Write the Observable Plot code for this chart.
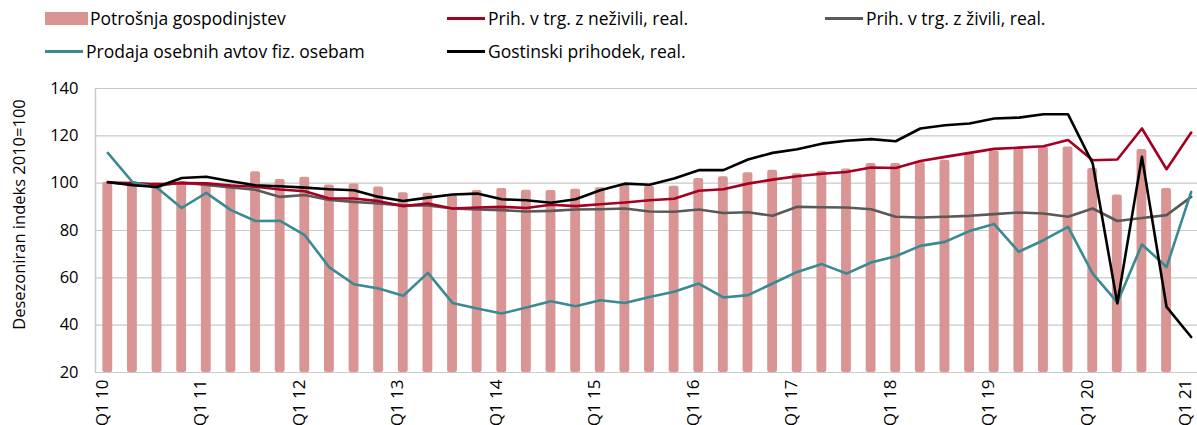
<!DOCTYPE html>
<html>
<head>
<meta charset="utf-8">
<script src="https://cdn.jsdelivr.net/npm/d3@7"></script>
<script src="https://cdn.jsdelivr.net/npm/@observablehq/plot@0.6"></script>
<style>
  body { margin: 0; background: #fff; overflow: hidden; font-family: "Open Sans", sans-serif; }
  #wrap { position: relative; width: 1197px; height: 425px; overflow: hidden; }
  #legend { position: absolute; left: 0; top: 0; width: 1197px; height: 70px; }
  .item { position: absolute; display: flex; align-items: center; font-size: 17.5px; color: #000; white-space: nowrap; height: 22px; }
  .sw-bar { width: 43px; height: 13px; margin-right: 2px; }
  .sw-line { width: 38px; height: 3px; margin-right: 3px; }
  #chart { position: absolute; left: 0; top: 70px; width: 1203px; }
  #chart svg { max-width: none !important; }
</style>
</head>
<body>
<div id="wrap"><div id="legend"></div><div id="chart"></div></div>
<script>
const categories = [
  "Q1 10","Q2 10","Q3 10","Q4 10","Q1 11","Q2 11","Q3 11","Q4 11",
  "Q1 12","Q2 12","Q3 12","Q4 12","Q1 13","Q2 13","Q3 13","Q4 13",
  "Q1 14","Q2 14","Q3 14","Q4 14","Q1 15","Q2 15","Q3 15","Q4 15",
  "Q1 16","Q2 16","Q3 16","Q4 16","Q1 17","Q2 17","Q3 17","Q4 17",
  "Q1 18","Q2 18","Q3 18","Q4 18","Q1 19","Q2 19","Q3 19","Q4 19",
  "Q1 20","Q2 20","Q3 20","Q4 20","Q1 21"
];
const tickLabels = ["Q1 10","Q1 11","Q1 12","Q1 13","Q1 14","Q1 15","Q1 16","Q1 17","Q1 18","Q1 19","Q1 20","Q1 21"];
const yTicks = [20, 40, 60, 80, 100, 120, 140];

// Potrošnja gospodinjstev (bars)
const consumption = [100.3,100.5,100.3,100.5,99.6,99.5,104.8,101.5,102.5,99.2,99.6,98.4,96.0,95.7,95.0,96.9,97.7,97.0,96.9,97.4,98.1,99.0,98.7,98.7,102.0,102.7,104.4,105.5,104.0,105.0,106.0,108.3,108.3,108.7,109.7,112.5,113.6,114.6,115.3,115.3,106.2,95.0,114.2,97.7,null];
// Prih. v trg. z neživili, real.
const nonFood = [100.3,100.0,99.5,100.0,99.9,99.0,98.5,97.3,96.6,93.5,93.5,92.4,90.3,91.4,89.3,89.7,90.0,89.5,90.9,90.3,91.1,91.8,92.8,93.4,96.8,97.4,99.8,101.5,102.9,104.0,104.7,106.6,106.4,109.4,111.1,112.8,114.5,115.0,115.6,118.2,109.7,110.0,123.1,105.9,121.4];
// Prih. v trg. z živili, real.
const food = [100.3,99.5,98.8,100.3,99.2,98.2,97.2,94.2,95.0,92.9,92.1,91.4,90.6,90.6,89.3,88.9,88.6,88.0,88.3,88.9,89.0,89.3,88.0,87.9,88.9,87.4,87.7,86.2,90.0,89.8,89.7,89.0,85.8,85.5,85.8,86.2,86.9,87.6,87.2,85.8,89.3,84.0,85.3,86.5,94.2];
// Prodaja osebnih avtov fiz. osebam
const cars = [112.8,100.5,98.1,89.5,95.9,88.6,84.0,84.1,78.0,64.4,57.3,55.5,52.4,62.1,49.4,47.0,44.9,47.5,50.1,48.0,50.5,49.4,51.9,54.1,57.6,51.7,52.7,57.6,62.5,65.8,61.8,66.5,69.1,73.5,75.2,79.8,82.7,71.0,75.9,81.5,61.8,49.6,74.1,64.6,96.3];
// Gostinski prihodek, real.
const gastro = [100.5,99.1,98.4,102.2,102.7,100.8,99.1,98.7,98.1,97.4,97.0,94.2,92.5,93.9,95.2,95.6,93.2,92.8,91.7,93.2,97.0,99.8,99.3,102.0,105.5,105.5,110.0,112.8,114.3,116.7,117.9,118.6,117.7,123.1,124.5,125.2,127.3,127.7,129.1,129.1,108.3,49.2,111.1,47.7,35.0];

const seriesNames = ["Potrošnja gospodinjstev","Prih. v trg. z neživili, real.","Prih. v trg. z živili, real.","Prodaja osebnih avtov fiz. osebam","Gostinski prihodek, real."];
const yTitle = "Desezoniran indeks 2010=100";
const colors = { bar: "#d99594", nonFood: "#a50021", food: "#595959", cars: "#3a8a92", gastro: "#000000" };
const gridColor = "#c9c9c9";

// legend
const legendItems = [
  { name: seriesNames[0], kind: "bar", color: colors.bar, left: 45, top: 7 },
  { name: seriesNames[1], kind: "line", color: colors.nonFood, left: 447, top: 7 },
  { name: seriesNames[2], kind: "line", color: colors.food, left: 825, top: 7 },
  { name: seriesNames[3], kind: "line", color: colors.cars, left: 45, top: 40 },
  { name: seriesNames[4], kind: "line", color: colors.gastro, left: 447, top: 40 }
];
const legend = d3.select("#legend");
for (const it of legendItems) {
  const d = legend.append("div").attr("class", "item").style("left", it.left + "px").style("top", it.top + "px");
  d.append("div").attr("class", it.kind === "bar" ? "sw-bar" : "sw-line").style("background", it.color);
  d.append("span").text(it.name);
}

const rows = categories.map((c, i) => ({
  q: c, consumption: consumption[i], nonFood: nonFood[i], food: food[i], cars: cars[i], gastro: gastro[i]
}));
const yMin = yTicks[0];

const leftAxisLine = (index, scales, values, dimensions) => {
  const g = d3.create("svg:line")
    .attr("x1", dimensions.marginLeft + 0.5).attr("x2", dimensions.marginLeft + 0.5)
    .attr("y1", dimensions.marginTop).attr("y2", dimensions.height - dimensions.marginBottom)
    .attr("stroke", gridColor).attr("stroke-width", 1.5);
  return g.node();
};

const chart = Plot.plot({
  width: 1203,
  height: 355,
  marginLeft: 95,
  marginRight: 0,
  marginTop: 18,
  marginBottom: 53,
  style: { fontFamily: "Open Sans, sans-serif", fontSize: "16px", color: "#000", background: "#fff" },
  x: { domain: categories, paddingInner: 0.6, paddingOuter: 0.3, round: false, axis: null },
  y: { domain: [yTicks[0], yTicks[yTicks.length - 1]], axis: null },
  marks: [
    Plot.ruleY(yTicks, { stroke: gridColor, strokeWidth: 1.2 }),
    Plot.barY(rows.filter(d => d.consumption != null), { x: "q", y1: () => yMin, y2: "consumption", fill: colors.bar, rx: 2 }),
    leftAxisLine,
    Plot.lineY(rows, { x: "q", y: "food", stroke: colors.food, strokeWidth: 2.6 }),
    Plot.lineY(rows, { x: "q", y: "nonFood", stroke: colors.nonFood, strokeWidth: 2.6 }),
    Plot.lineY(rows, { x: "q", y: "cars", stroke: colors.cars, strokeWidth: 2.6 }),
    Plot.lineY(rows, { x: "q", y: "gastro", stroke: colors.gastro, strokeWidth: 2.6 }),
    Plot.text(yTicks, { y: d => d, frameAnchor: "left", textAnchor: "end", dx: -17, text: d => String(d), fontSize: 16.5, fill: "#000" }),
    Plot.text(tickLabels, { x: d => d, frameAnchor: "bottom", rotate: -90, textAnchor: "end", dy: 7, text: d => d, fontSize: 17, fill: "#000" }),
    Plot.text([yTitle], { frameAnchor: "left", rotate: -90, textAnchor: "middle", dx: -76, dy: -16, text: d => d, fontSize: 16.5, fill: "#000" })
  ]
});
document.getElementById("chart").appendChild(chart);
</script>
</body>
</html>
